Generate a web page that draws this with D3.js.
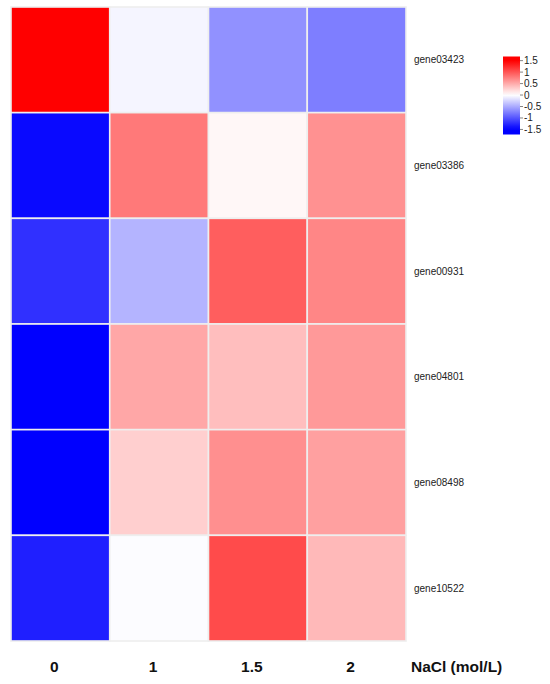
<!DOCTYPE html>
<html>
<head>
<meta charset="utf-8">
<script src="https://cdn.jsdelivr.net/npm/d3@7"></script>
<style>
  html, body { margin: 0; padding: 0; background: #fff; }
  svg { display: block; }
</style>
</head>
<body>
<svg id="chart" width="550" height="684"></svg>
<script>
const genes = ["gene03423", "gene03386", "gene00931", "gene04801", "gene08498", "gene10522"];
const conditions = ["0", "1", "1.5", "2"];
const axisTitle = "NaCl (mol/L)";
const gene03423 = [1.50, -0.06, -0.65, -0.76];
const gene03386 = [-1.45, 0.79, 0.05, 0.65];
const gene00931 = [-1.22, -0.44, 0.95, 0.71];
const gene04801 = [-1.50, 0.52, 0.38, 0.60];
const gene08498 = [-1.50, 0.28, 0.66, 0.56];
const gene10522 = [-1.32, -0.02, 1.06, 0.41];
const legendTicks = [1.5, 1, 0.5, 0, -0.5, -1, -1.5];

const rows = [gene03423, gene03386, gene00931, gene04801, gene08498, gene10522];
const cells = [];
rows.forEach((vals, r) => vals.forEach((v, c) => cells.push({ gene: genes[r], cond: conditions[c], value: v })));

const svg = d3.select("#chart");

const x = d3.scaleBand().domain(conditions).range([11, 406]).paddingInner(0);
const y = d3.scaleBand().domain(genes).range([7, 641]).paddingInner(0);
const color = d3.scaleLinear().domain([-1.5, 0, 1.5]).range(["#0000ff", "#ffffff", "#ff0000"]).clamp(true);

svg.append("g").selectAll("rect")
  .data(cells)
  .join("rect")
  .attr("x", d => x(d.cond))
  .attr("y", d => y(d.gene))
  .attr("width", x.bandwidth())
  .attr("height", y.bandwidth())
  .attr("fill", d => color(d.value))
  .attr("stroke", "#eeeeee")
  .attr("stroke-width", 1.6);

// gene labels
svg.append("g").selectAll("text")
  .data(genes)
  .join("text")
  .attr("x", 414)
  .attr("y", d => y(d) + y.bandwidth() / 2)
  .attr("dy", "0.35em")
  .attr("font-family", "'Liberation Sans', Arial, sans-serif")
  .attr("font-size", 10)
  .attr("fill", "#222")
  .text(d => d);

// column labels
svg.append("g").selectAll("text")
  .data(conditions)
  .join("text")
  .attr("x", d => x(d) + x.bandwidth() / 2 - 6)
  .attr("y", 672)
  .attr("text-anchor", "middle")
  .attr("font-family", "'Liberation Sans', Arial, sans-serif")
  .attr("font-weight", "bold")
  .attr("font-size", 15.5)
  .attr("fill", "#111")
  .text(d => d);

svg.append("text")
  .attr("x", 411)
  .attr("y", 672)
  .attr("font-family", "'Liberation Sans', Arial, sans-serif")
  .attr("font-weight", "bold")
  .attr("font-size", 15.5)
  .attr("fill", "#111")
  .text(axisTitle);

// legend
const ly = d3.scaleLinear().domain([-1.72, 1.68]).range([134.5, 56.5]);
const defs = svg.append("defs");
const grad = defs.append("linearGradient").attr("id", "lg").attr("x1", 0).attr("x2", 0).attr("y1", 1).attr("y2", 0);
const stops = d3.range(0, 1.0001, 0.05);
grad.selectAll("stop").data(stops).join("stop")
  .attr("offset", d => d)
  .attr("stop-color", d => color(ly.domain()[0] + d * (ly.domain()[1] - ly.domain()[0])));

svg.append("rect")
  .attr("x", 503)
  .attr("y", ly(1.68))
  .attr("width", 17)
  .attr("height", ly(-1.72) - ly(1.68))
  .attr("fill", "url(#lg)");

const lg = svg.append("g");
lg.selectAll("line").data(legendTicks).join("line")
  .attr("x1", 520).attr("x2", 523)
  .attr("y1", d => ly(d)).attr("y2", d => ly(d))
  .attr("stroke", "#666").attr("stroke-width", 0.8);
lg.selectAll("text").data(legendTicks).join("text")
  .attr("x", 524)
  .attr("y", d => ly(d))
  .attr("dy", "0.35em")
  .attr("font-family", "'Liberation Sans', Arial, sans-serif")
  .attr("font-size", 10)
  .attr("fill", "#222")
  .text(d => d);
</script>
</body>
</html>
